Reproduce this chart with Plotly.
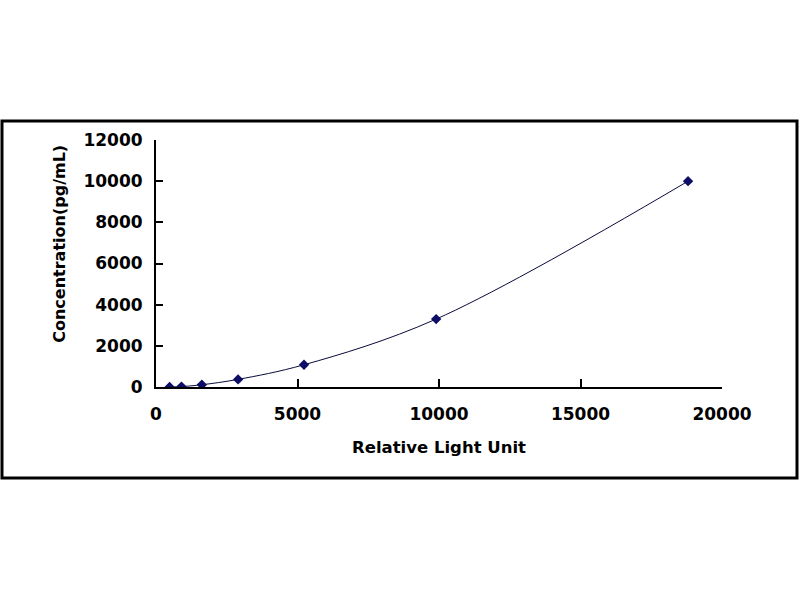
import plotly.graph_objects as go

# standard curve values
rlu = [480, 900, 1620, 2900, 5230, 9900, 18800]
conc = [0, 20, 110, 370, 1080, 3300, 10000]

x_ticks = [0, 5000, 10000, 15000, 20000]
x_labels = ['0', '5000', '10000', '15000', '20000']
y_ticks = [0, 2000, 4000, 6000, 8000, 10000, 12000]
y_labels = ['0', '2000', '4000', '6000', '8000', '10000', '12000']

x_title = 'Relative Light Unit'
y_title = 'Concentration(pg/mL)'

bold = dict(family='DejaVu Sans', size=17, color='black', weight='bold')

fig = go.Figure()
fig.add_trace(go.Scatter(x=rlu, y=conc, mode='lines+markers',
                         line=dict(color='#0a0a3c', width=1, shape='spline', smoothing=1.0),
                         marker=dict(symbol='diamond', size=8, color='#0d0d66'),
                         showlegend=False))

fig.update_xaxes(range=[0, 20000], tickvals=x_ticks, ticktext=x_labels,
                 ticks='inside', ticklen=8, tickwidth=2, tickcolor='black',
                 showline=True, linecolor='black', linewidth=2, showgrid=False,
                 zeroline=False, tickfont=bold, ticklabelstandoff=11,
                 title=dict(text=x_title, standoff=18,
                            font=dict(family='DejaVu Sans', size=16.5, color='black', weight='bold')))
fig.update_yaxes(range=[0, 12000], tickvals=y_ticks, ticktext=y_labels,
                 ticks='inside', ticklen=7, tickwidth=2, tickcolor='black',
                 showline=True, linecolor='black', linewidth=2, showgrid=False,
                 zeroline=False, tickfont=bold, ticklabelstandoff=8)

# rotated y title placed where the original sits
fig.add_annotation(text=y_title, textangle=-90, xref='paper', yref='paper',
                   x=-0.17, y=0.579, xanchor='center', yanchor='middle', showarrow=False,
                   font=dict(family='DejaVu Sans', size=16, color='black', weight='bold'))

# outer frame round the chart
fig.add_shape(type='rect', xref='paper', yref='paper',
              x0=-0.2721, x1=1.1325, y0=-0.3684, y1=1.0769,
              line=dict(color='black', width=3))

fig.update_layout(width=800, height=600, autosize=False,
                  margin=dict(l=156, r=78, t=140, b=213),
                  plot_bgcolor='white', paper_bgcolor='white')

fig.write_html('out.html', config={'displayModeBar': False},
               post_script="document.body.style.margin='0';")
